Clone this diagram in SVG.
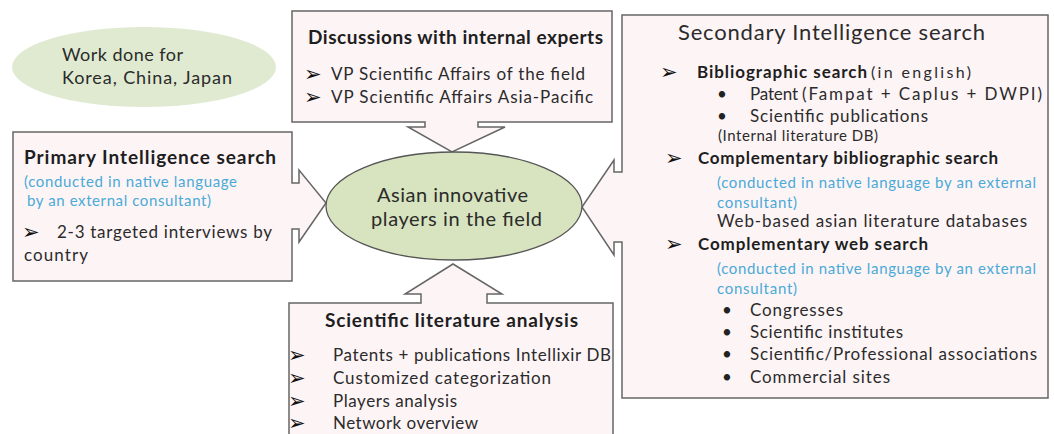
<svg xmlns="http://www.w3.org/2000/svg" width="1054" height="434" viewBox="0 0 1054 434">
<style>
.box{fill:#fdf4f6;stroke:#666;stroke-width:1.5}
text{font-family:Lato,"Open Sans","Liberation Sans",sans-serif;fill:#2b2b2b}
.t{font-size:19px;font-weight:bold;fill:#1e1e1e}
.b{font-size:17px;font-weight:bold;fill:#1e1e1e}
.r{font-size:17px}
.s{font-size:15px}
.blue{font-size:15px;fill:#4aaad8}
.ar{font-family:"DejaVu Sans",sans-serif;font-size:21px;fill:#111}
.bu{font-size:17px;fill:#222}
</style>
<rect width="1054" height="434" fill="#fff"/>
<g id="connectors"></g>
<g id="work-done">
<ellipse cx="144" cy="67" rx="132" ry="40" fill="#dfead1"/>
<text x="62" y="61" style="font-size:18px" textLength="121">Work done for</text>
<text x="62" y="84" style="font-size:18px" textLength="170">Korea, China, Japan</text>
</g>
<g id="discussions">
<path class="box" d="M292,11 H612 V122 H478 V127 H505 L452,152 L408,127 H425 V122 H292 Z"/>
<text class="t" x="308" y="44" textLength="295">Discussions with internal experts</text>
<text class="ar" x="304" y="81">➢</text>
<text class="r" x="331" y="80" textLength="254">VP Scientific Affairs of the field</text>
<text class="ar" x="304" y="104">➢</text>
<text class="r" x="331" y="103" textLength="262">VP Scientific Affairs Asia-Pacific</text>
</g>
<g id="primary">
<path class="box" d="M13,132 H292 V183 H299 V170 L326,203 L299,242 V229 H292 V281 H13 Z"/>
<text class="t" x="24" y="164" textLength="252">Primary Intelligence search</text>
<text class="blue" x="24" y="187" textLength="213">(conducted  in native language</text>
<text class="blue" x="27" y="206" textLength="184">by an external consultant)</text>
<text class="ar" x="22" y="239">➢</text>
<text class="r" x="57" y="238" textLength="215">2-3 targeted interviews by</text>
<text class="r" x="24" y="261" textLength="64">country</text>
</g>
<g id="secondary">
<path class="box" d="M622,15 H1048 V398 H622 V242 H614 V255 L582,207 L614,160 V172 H622 Z"/>
<text x="678" y="40" style="font-size:22px" textLength="307">Secondary Intelligence search</text>
<text class="ar" x="660" y="79">➢</text>
<text class="b" x="697" y="78" textLength="170">Bibliographic search</text>
<text x="871" y="78" style="font-size:16px" textLength="100">(in english)</text>
<text class="bu" x="717" y="100">•</text>
<text class="r" x="750" y="100" textLength="48">Patent</text>
<text x="802" y="100" style="font-size:17px" textLength="240">(Fampat + Caplus + DWPI)</text>
<text class="bu" x="717" y="122">•</text>
<text class="r" x="750" y="122" textLength="178">Scientific publications</text>
<text class="s" x="718" y="141" textLength="160">(Internal literature DB)</text>
<text class="ar" x="665" y="165">➢</text>
<text class="b" x="698" y="164" textLength="300">Complementary bibliographic search</text>
<text class="blue" x="717" y="188" textLength="319">(conducted  in native language by an external</text>
<text class="blue" x="717" y="208" textLength="80">consultant)</text>
<text class="r" x="717" y="227" textLength="310">Web-based asian literature databases</text>
<text class="ar" x="665" y="251">➢</text>
<text class="b" x="698" y="250" textLength="230">Complementary web search</text>
<text class="blue" x="717" y="274" textLength="319">(conducted  in native language by an external</text>
<text class="blue" x="717" y="294" textLength="80">consultant)</text>
<text class="bu" x="722" y="316">•</text>
<text class="r" x="750" y="316" textLength="93">Congresses</text>
<text class="bu" x="722" y="338">•</text>
<text class="r" x="750" y="338" textLength="153">Scientific institutes</text>
<text class="bu" x="722" y="360">•</text>
<text class="r" x="750" y="360" textLength="287">Scientific/Professional associations</text>
<text class="bu" x="722" y="383">•</text>
<text class="r" x="750" y="383" textLength="140">Commercial sites</text>
</g>
<g id="literature">
<path class="box" d="M289,303 H421 V294 H405 L453,264 L502,294 H487 V303 H613 V440 H289 Z"/>
<text class="t" x="325" y="327" textLength="253">Scientific literature analysis</text>
<text class="ar" x="288" y="362">➢</text>
<text class="r" x="333" y="361" textLength="278">Patents + publications Intellixir DB</text>
<text class="ar" x="288" y="385">➢</text>
<text class="r" x="333" y="384" textLength="218">Customized categorization</text>
<text class="ar" x="288" y="408">➢</text>
<text class="r" x="333" y="407" textLength="124">Players analysis</text>
<text class="ar" x="288" y="430">➢</text>
<text class="r" x="333" y="429" textLength="145">Network overview</text>
</g>
<g id="asian-players">
<ellipse cx="454" cy="206" rx="128" ry="54" fill="#d8e4bf" stroke="#555" stroke-width="1.3"/>
<text x="377" y="202" style="font-size:20px" textLength="151">Asian innovative</text>
<text x="371" y="226" style="font-size:20px" textLength="171">players in the field</text>
</g>
</svg>
